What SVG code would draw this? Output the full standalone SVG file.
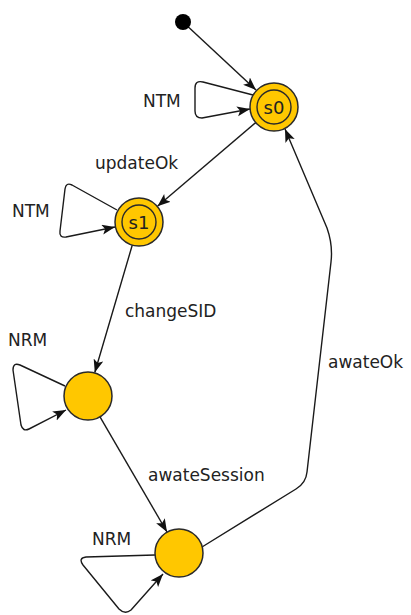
<svg xmlns="http://www.w3.org/2000/svg" width="411" height="615" viewBox="0 0 411 615">
<defs>
<style>
.st{fill:#FFC700;stroke:#2a2a2a;stroke-width:1.5}
.in{fill:none;stroke:#2a2a2a;stroke-width:1.4}
.e{fill:none;stroke:#1a1a1a;stroke-width:1.4;stroke-linejoin:round}
text{font-family:"DejaVu Sans","Liberation Sans",sans-serif;font-size:17px;fill:#222}
.c{text-anchor:middle;font-size:18px}
</style>
<marker id="ah" markerUnits="userSpaceOnUse" markerWidth="16" markerHeight="12" refX="13" refY="5" orient="auto">
<path d="M0,0 L13,5 L0,10 L3,5 z" fill="#111"/>
</marker>
</defs>
<rect width="411" height="615" fill="#fff"/>
<g id="connectors">
<line class="e" x1="183" y1="22" x2="256" y2="90" marker-end="url(#ah)"/>
<path class="e" d="M253,95 L203,82 Q195,80 195,88 L195,111 Q195,118 202,118 L250,109" marker-end="url(#ah)"/>
<path class="e" d="M255.7,122.6 L157.5,206.3" marker-end="url(#ah)"/>
<path class="e" d="M117,210 L72,185 Q66,182 65,189 L60,231 Q59,238 66,237 L115,227" marker-end="url(#ah)"/>
<path class="e" d="M132.3,245 L94.8,372.5" marker-end="url(#ah)"/>
<path class="e" d="M65,386 L20,365 Q13,362 13,370 L21,425 Q23,432 29,429 L66,410" marker-end="url(#ah)"/>
<path class="e" d="M100,416.8 L167,532" marker-end="url(#ah)"/>
<path class="e" d="M155,555 L86,557 Q78,558 83,565 L119,609 Q125,615 131,610 L163,574" marker-end="url(#ah)"/>
<path class="e" d="M202,547 L296,489 Q306,483 307,472 L331,262 Q333,245 327,228 L285,129" marker-end="url(#ah)"/>
</g>
<g id="labels">
<text x="143" y="107">NTM</text>
<text x="95" y="169">updateOk</text>
<text x="12" y="217">NTM</text>
<text x="125" y="317">changeSID</text>
<text x="8" y="346">NRM</text>
<text x="328" y="368">awateOk</text>
<text x="148" y="481">awateSession</text>
<text x="92" y="545">NRM</text>
</g>
<g id="init"><circle cx="183" cy="22" r="8" fill="#000"/></g>
<g id="s0">
<circle class="st" cx="274" cy="107" r="24"/>
<circle class="in" cx="274" cy="107" r="17"/>
<text class="c" x="274" y="113.5">s0</text>
</g>
<g id="s1">
<circle class="st" cx="139" cy="222" r="24"/>
<circle class="in" cx="139" cy="222" r="17"/>
<text class="c" x="139" y="228.5">s1</text>
</g>
<g id="n3"><circle class="st" cx="88" cy="396" r="24"/></g>
<g id="n4"><circle class="st" cx="179" cy="553" r="24"/></g>
</svg>
